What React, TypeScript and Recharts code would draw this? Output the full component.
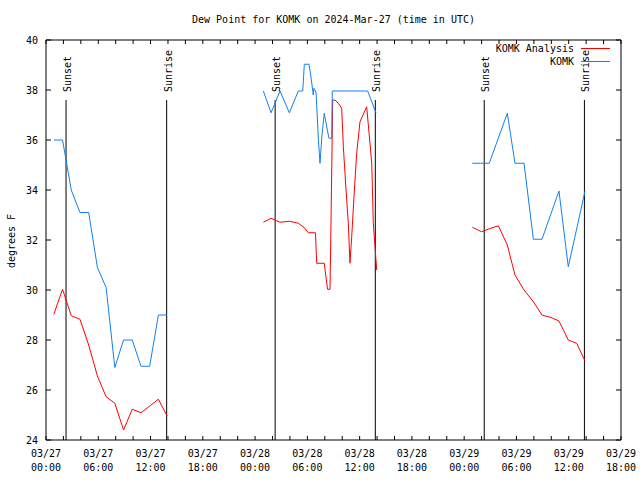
import React from 'react';
import { LineChart, Line, XAxis, YAxis, ReferenceLine } from 'recharts';

// hours since 03/27 00:00 UTC
const xTicks = [0, 2, 4, 6, 8, 10, 12, 14, 16, 18, 20, 22, 24, 26, 28, 30, 32, 34, 36, 38, 40, 42, 44, 46, 48, 50, 52, 54, 56, 58, 60, 62, 64, 66];
const xLabelHours = [0, 6, 12, 18, 24, 30, 36, 42, 48, 54, 60, 66];
const xLabelDates = ['03/27', '03/27', '03/27', '03/27', '03/28', '03/28', '03/28', '03/28', '03/29', '03/29', '03/29', '03/29'];
const xLabelTimes = ['00:00', '06:00', '12:00', '18:00', '00:00', '06:00', '12:00', '18:00', '00:00', '06:00', '12:00', '18:00'];
const yTicks = [24, 26, 28, 30, 32, 34, 36, 38, 40];

// KOMK observations (blue)
const obsHours = [
  0.9, 1.9, 2.9, 3.9, 4.9, 5.9, 6.9, 7.9, 8.9, 9.9, 10.9, 11.9, 12.9, 13.9,
  19,
  24.95, 25.83, 26.86, 27.93, 28.96, 29.47, 29.65, 30.19, 30.38, 30.68, 30.76, 31.0, 31.26, 31.45, 31.68, 31.94, 32.29, 32.48, 32.79, 32.86, 36.92, 37.88,
  43,
  48.93, 49.9, 50.88, 52.95, 53.83, 54.87, 55.94, 56.93, 58.88, 59.95, 61.87,
];
const obsDew = [
  36, 36, 34, 33.1, 33.1, 30.9, 30.1, 26.9, 28, 28, 26.95, 26.95, 29, 29,
  null,
  37.96, 37.09, 37.96, 37.09, 37.96, 37.96, 39.03, 39.03, 38.6, 37.8, 38.07, 37.9, 36.07, 35.07, 36.2, 37.07, 36.4, 36.07, 36.07, 37.96, 37.96, 37.09,
  null,
  35.07, 35.07, 35.07, 37.07, 35.07, 35.07, 32.03, 32.03, 33.96, 30.93, 33.96,
];

// KOMK Analysis (red)
const anaHours = [
  0.9, 1.9, 2.9, 3.9, 4.9, 5.9, 6.9, 7.9, 8.9, 9.9, 10.9, 11.9, 12.9, 13.9,
  19,
  24.95, 25.83, 26.86, 27.93, 28.96, 29.6, 30.11, 30.93, 31.07, 31.94, 32.13, 32.32, 32.6, 32.68, 32.91, 33.17, 33.55, 33.94, 34.13, 34.44, 34.7, 34.89, 35.09, 35.35, 35.66, 36.04, 36.81, 37.39, 37.57, 37.96,
  43,
  48.93, 50.0, 50.9, 51.92, 52.95, 53.83, 54.87, 55.94, 56.93, 57.97, 58.88, 59.95, 60.91, 61.87,
];
const anaDew = [
  29.03, 30.03, 28.97, 28.83, 27.8, 26.56, 25.73, 25.47, 24.4, 25.23, 25.09, 25.36, 25.63, 24.96,
  null,
  32.71, 32.87, 32.71, 32.75, 32.67, 32.51, 32.29, 32.29, 31.07, 31.07, 30.53, 30.03, 30.03, 31.88, 37.6, 37.6, 37.47, 37.27, 35.73, 34.0, 32.67, 31.07, 32.13, 33.73, 35.47, 36.73, 37.33, 35.07, 32.67, 30.8,
  null,
  32.51, 32.33, 32.45, 32.57, 31.8, 30.6, 30.0, 29.53, 29.0, 28.9, 28.76, 28.0, 27.87, 27.16,
];

const sunHours = [2.3, 13.85, 26.3, 37.8, 50.3, 61.8];
const sunLabels = ['Sunset', 'Sunrise', 'Sunset', 'Sunrise', 'Sunset', 'Sunrise'];
const sunLineTop = 37.6;

const obsData = obsHours.map((h, i) => ({ h, v: obsDew[i] }));
const anaData = anaHours.map((h, i) => ({ h, v: anaDew[i] }));

const FONT = '"DejaVu Sans Mono", "Liberation Mono", monospace';
const RED = '#ff0000';
const BLUE = '#1080f0';

const BottomTick = (props: any) => {
  const { x, y, payload } = props;
  const i = xLabelHours.indexOf(payload.value);
  return (
    <g>
      <line x1={x} y1={y} x2={x} y2={y - 4} stroke="#000" strokeWidth={1} />
      {i >= 0 && (
        <text x={x} y={y + 17} textAnchor="middle" fontFamily={FONT} fontSize={10} fill="#000">
          {xLabelDates[i]}
        </text>
      )}
      {i >= 0 && (
        <text x={x} y={y + 31} textAnchor="middle" fontFamily={FONT} fontSize={10} fill="#000">
          {xLabelTimes[i]}
        </text>
      )}
    </g>
  );
};

const TopTick = (props: any) => {
  const { x, y } = props;
  return <line x1={x} y1={y} x2={x} y2={y + 4} stroke="#000" strokeWidth={1} />;
};

const LeftTick = (props: any) => {
  const { x, y, payload } = props;
  return (
    <g>
      <line x1={x} y1={y} x2={x + 5} y2={y} stroke="#000" strokeWidth={1} />
      <text x={x - 8} y={y + 4} textAnchor="end" fontFamily={FONT} fontSize={10} fill="#000">
        {payload.value}
      </text>
    </g>
  );
};

const RightTick = (props: any) => {
  const { x, y } = props;
  return <line x1={x} y1={y} x2={x - 5} y2={y} stroke="#000" strokeWidth={1} />;
};

const SunLabel = (text: string) => (props: any) => {
  const vb = props.viewBox || {};
  const x = (vb.x ?? 0) + 5;
  const y = (vb.y ?? 0) - 8;
  return (
    <text
      transform={`translate(${x},${y}) rotate(-90)`}
      textAnchor="start"
      fontFamily={FONT}
      fontSize={10}
      fill="#000"
    >
      {text}
    </text>
  );
};

export default function App() {
  return (
    <div style={{ position: 'absolute', left: 0, top: 0, width: 640, height: 480, background: '#fff' }}>
      <LineChart width={640} height={480} margin={{ top: 30, right: 9, bottom: 10, left: 16 }}>
        <XAxis
          xAxisId="b"
          type="number"
          dataKey="h"
          domain={[0, 66]}
          ticks={xTicks}
          interval={0}
          orientation="bottom"
          height={30}
          tickSize={0}
          tickMargin={0}
          tickLine={false}
          axisLine={{ stroke: '#000', strokeWidth: 1 }}
          tick={<BottomTick />}
          allowDataOverflow
        />
        <XAxis
          xAxisId="t"
          type="number"
          dataKey="h"
          domain={[0, 66]}
          ticks={xTicks}
          interval={0}
          orientation="top"
          height={10}
          tickSize={0}
          tickMargin={0}
          tickLine={false}
          axisLine={{ stroke: '#000', strokeWidth: 1 }}
          tick={<TopTick />}
          allowDataOverflow
        />
        <YAxis
          yAxisId="l"
          type="number"
          domain={[24, 40]}
          ticks={yTicks}
          interval={0}
          orientation="left"
          width={30}
          tickSize={0}
          tickMargin={0}
          tickLine={false}
          axisLine={{ stroke: '#000', strokeWidth: 1 }}
          tick={<LeftTick />}
          allowDataOverflow
        />
        <YAxis
          yAxisId="r"
          type="number"
          domain={[24, 40]}
          ticks={yTicks}
          interval={0}
          orientation="right"
          width={10}
          tickSize={0}
          tickMargin={0}
          tickLine={false}
          axisLine={{ stroke: '#000', strokeWidth: 1 }}
          tick={<RightTick />}
          allowDataOverflow
        />
        {sunHours.map((h, i) => (
          <ReferenceLine
            key={'sun' + i}
            xAxisId="b"
            yAxisId="l"
            segment={[{ x: h, y: 24 }, { x: h, y: sunLineTop }]}
            stroke="#000"
            strokeWidth={1}
            label={SunLabel(sunLabels[i])}
          />
        ))}
        <Line
          xAxisId="b"
          yAxisId="l"
          data={anaData}
          dataKey="v"
          type="linear"
          stroke={RED}
          strokeWidth={1}
          dot={false}
          connectNulls={false}
          isAnimationActive={false}
        />
        <Line
          xAxisId="b"
          yAxisId="l"
          data={obsData}
          dataKey="v"
          type="linear"
          stroke={BLUE}
          strokeWidth={1}
          dot={false}
          connectNulls={false}
          isAnimationActive={false}
        />
      </LineChart>
      <div
        style={{
          position: 'absolute', left: 0, top: 13, width: 667, textAlign: 'center',
          fontFamily: FONT, fontSize: 10, lineHeight: '14px', color: '#000',
        }}
      >
        Dew Point for KOMK on 2024-Mar-27 (time in UTC)
      </div>
      <div
        style={{
          position: 'absolute', left: 12, top: 241, transform: 'translate(-50%, -50%) rotate(-90deg)',
          fontFamily: FONT, fontSize: 10, lineHeight: '12px', whiteSpace: 'nowrap', color: '#000',
        }}
      >
        degrees F
      </div>
      <div style={{ position: 'absolute', left: 420, top: 42, width: 200, fontFamily: FONT, fontSize: 10, color: '#000' }}>
        {[
          { name: 'KOMK Analysis', color: RED },
          { name: 'KOMK', color: BLUE },
        ].map((it) => (
          <div key={it.name} style={{ display: 'flex', alignItems: 'center', height: 13, lineHeight: '13px' }}>
            <span style={{ width: 154, textAlign: 'right' }}>{it.name}</span>
            <span style={{ width: 7 }} />
            <span style={{ width: 29, height: 1, background: it.color, display: 'inline-block' }} />
          </div>
        ))}
      </div>
    </div>
  );
}
